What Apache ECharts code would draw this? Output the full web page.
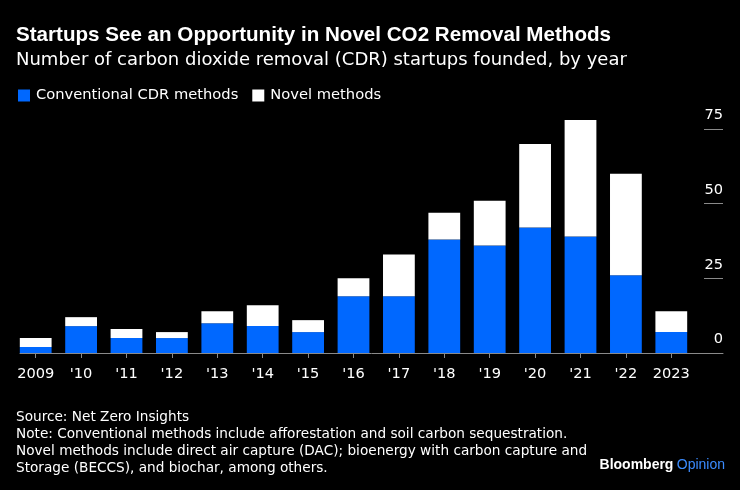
<!DOCTYPE html>
<html><head><meta charset="utf-8">
<script src="https://cdn.jsdelivr.net/npm/echarts@6/dist/echarts.min.js"></script>
<style>html,body{margin:0;padding:0;background:#000}#c{width:740px;height:490px}</style>
</head><body><div id="c"></div>
<script>
const years = ['2009', "'10", "'11", "'12", "'13", "'14", "'15", "'16", "'17", "'18", "'19", "'20", "'21", "'22", '2023'];
const conventional = [2, 9, 5, 5, 10, 9, 7, 19, 19, 38, 36, 42, 39, 26, 7];
const novel = [3, 3, 3, 2, 4, 7, 4, 6, 14, 9, 15, 28, 39, 34, 7];
const yMin = 0, yMax = 75, yStep = 25;

const FONT = 'DejaVu Sans';
const BOLD = 'Liberation Sans';
const chart = echarts.init(document.getElementById('c'), null, {renderer: 'canvas'});
chart.setOption({
  backgroundColor: '#000',
  animation: false,
  textStyle: {fontFamily: FONT},
  title: [
    {text: 'Startups See an Opportunity in Novel CO2 Removal Methods', left: 16, top: 25, padding: 0,
     textStyle: {color: '#fff', fontSize: 20.6, fontWeight: 'bold', fontFamily: BOLD}},
    {text: 'Number of carbon dioxide removal (CDR) startups founded, by year', left: 16, top: 51, padding: 0,
     textStyle: {color: '#fff', fontSize: 18, fontWeight: 'normal', fontFamily: FONT}},
    {text: 'Source: Net Zero Insights\nNote: Conventional methods include afforestation and soil carbon sequestration.\nNovel methods include direct air capture (DAC); bioenergy with carbon capture and\nStorage (BECCS), and biochar, among others.',
     left: 16, top: 409, padding: 0,
     textStyle: {color: '#fff', fontSize: 13.65, fontWeight: 'normal', lineHeight: 17.1, fontFamily: FONT}}
  ],
  legend: {
    left: 18, top: 88, padding: 0, itemWidth: 12, itemHeight: 12, itemGap: 14, icon: 'rect',
    textStyle: {color: '#fff', fontSize: 14.7, fontFamily: FONT, padding: [0, 0, 0, 1]},
    data: ['Conventional CDR methods', 'Novel methods']
  },
  graphic: [{
    type: 'text', right: 15, top: 458,
    style: {
      text: '{a|Bloomberg} {b|Opinion}',
      rich: {
        a: {fill: '#fff', fontSize: 14, fontWeight: 'bold', fontFamily: BOLD},
        b: {fill: '#3b8cff', fontSize: 14, fontWeight: 'normal', fontFamily: BOLD}
      }
    }
  }],
  grid: [
    {left: 20, right: 17, top: 129, bottom: 137},
    {left: 13, right: 46, top: 129, bottom: 137},
    {left: 704, right: 17, top: 129, bottom: 137}
  ],
  xAxis: [
    {gridIndex: 0, type: 'value', min: 0, max: 1, axisLine: {show: true, lineStyle: {color: '#8a8a8a', width: 1}},
     axisTick: {show: false}, axisLabel: {show: false}, splitLine: {show: false}},
    {gridIndex: 1, type: 'category', data: years, axisLine: {show: false},
     axisTick: {show: true, alignWithLabel: true, interval: 0, length: 5, lineStyle: {color: '#8a8a8a'}},
     axisLabel: {interval: 0, color: '#fff', fontSize: 14.6, margin: 14, fontFamily: FONT}},
    {gridIndex: 2, type: 'value', min: 0, max: 1, show: false}
  ],
  yAxis: [
    {gridIndex: 0, type: 'value', min: yMin, max: yMax, interval: yStep, show: false},
    {gridIndex: 1, type: 'value', min: yMin, max: yMax, interval: yStep, show: false},
    {gridIndex: 2, type: 'value', position: 'right', min: yMin, max: yMax, interval: yStep,
     axisLine: {show: false}, axisTick: {show: false},
     splitLine: {show: true, lineStyle: {color: '#8a8a8a', width: 1}},
     axisLabel: {inside: true, margin: 0, color: '#fff', fontSize: 14.6, verticalAlign: 'bottom', padding: [0, 0, 6, 0], fontFamily: FONT}}
  ],
  series: [
    {name: 'Conventional CDR methods', type: 'bar', stack: 's', xAxisIndex: 1, yAxisIndex: 1,
     data: conventional, barCategoryGap: '30%', clip: false, itemStyle: {color: '#0068ff'}},
    {name: 'Novel methods', type: 'bar', stack: 's', xAxisIndex: 1, yAxisIndex: 1,
     data: novel, barCategoryGap: '30%', clip: false, itemStyle: {color: '#ffffff'}}
  ]
});
</script>
</body></html>
